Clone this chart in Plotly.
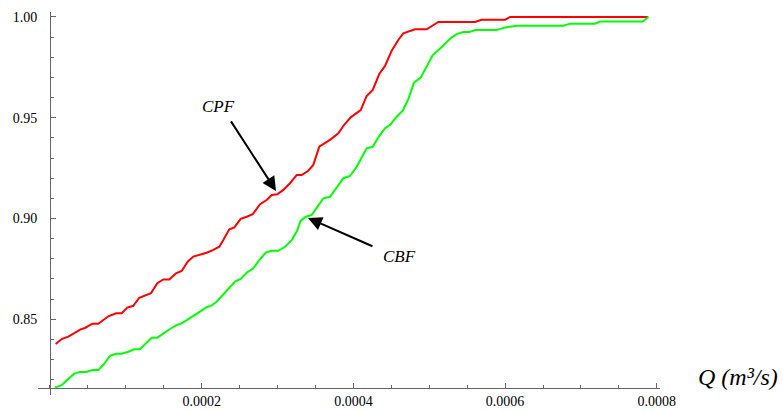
import plotly.graph_objects as go

# flow rate Q (m3/s) and cumulative probability
q_cpf = [7.5e-6, 15.4e-6, 24.1e-6, 33.0e-6, 40.5e-6, 46.1e-6, 55.8e-6, 63.7e-6, 76.9e-6, 87.0e-6,
         94.5e-6, 101.9e-6, 109.8e-6, 117.7e-6, 125.2e-6, 133.2e-6, 141.5e-6, 149.4e-6, 157.3e-6, 166.1e-6,
         173.6e-6, 181.5e-6, 188.9e-6, 197.8e-6, 206.6e-6, 215.3e-6, 223.2e-6, 228.5e-6, 236.4e-6, 243.0e-6,
         251.4e-6, 259.3e-6, 267.2e-6, 276.9e-6, 285.7e-6, 292.3e-6, 299.7e-6, 307.6e-6, 316.4e-6, 325.3e-6,
         331.8e-6, 340.5e-6, 347.1e-6, 355.0e-6, 362.6e-6, 370.1e-6, 380.1e-6, 387.6e-6, 396.4e-6, 409.6e-6,
         417.5e-6, 425.5e-6, 434.1e-6, 441.7e-6, 450.5e-6, 459.2e-6, 465.8e-6, 481.2e-6, 496.6e-6, 511.9e-6,
         560.3e-6, 569.1e-6, 599.9e-6, 606.5e-6, 788.8e-6]
p_cpf = [0.8377, 0.8402, 0.8414, 0.8435, 0.8450, 0.8457, 0.8478, 0.8478, 0.8515, 0.8530,
         0.8530, 0.8558, 0.8567, 0.8607, 0.8617, 0.8630, 0.8679, 0.8698, 0.8698, 0.8728,
         0.8740, 0.8786, 0.8811, 0.8821, 0.8830, 0.8844, 0.8860, 0.8893, 0.8947, 0.8956,
         0.8998, 0.9009, 0.9021, 0.9071, 0.9092, 0.9117, 0.9120, 0.9142, 0.9175, 0.9216,
         0.9216, 0.9237, 0.9266, 0.9356, 0.9373, 0.9393, 0.9423, 0.9464, 0.9502, 0.9538,
         0.9608, 0.9638, 0.9717, 0.9757, 0.9833, 0.9886, 0.9919, 0.9939, 0.9939, 0.9975,
         0.9975, 0.9986, 0.9986, 1.0, 1.0]

q_cbf = [6.6e-6, 15.4e-6, 24.1e-6, 31.6e-6, 39.6e-6, 47.5e-6, 56.3e-6, 63.7e-6, 71.2e-6, 79.1e-6,
         87.0e-6, 94.5e-6, 103.2e-6, 111.1e-6, 118.7e-6, 126.6e-6, 134.1e-6, 141.5e-6, 149.4e-6, 158.2e-6,
         166.1e-6, 173.6e-6, 182.3e-6, 191.2e-6, 197.8e-6, 205.3e-6, 213.2e-6, 219.8e-6, 224.1e-6, 234.6e-6,
         243.9e-6, 251.4e-6, 259.3e-6, 268.0e-6, 275.9e-6, 284.8e-6, 292.3e-6, 301.0e-6, 309.8e-6, 318.7e-6,
         325.3e-6, 330.5e-6, 337.5e-6, 345.0e-6, 352.4e-6, 360.3e-6, 369.2e-6, 378.0e-6, 386.7e-6, 395.5e-6,
         404.4e-6, 409.6e-6, 417.5e-6, 425.5e-6, 432.8e-6, 441.7e-6, 449.2e-6, 457.1e-6, 465.0e-6, 472.4e-6,
         479.9e-6, 488.7e-6, 496.6e-6, 504.6e-6, 513.3e-6, 520.8e-6, 529.6e-6, 537.0e-6, 544.9e-6, 552.8e-6,
         560.3e-6, 588.9e-6, 598.6e-6, 615.3e-6, 676.7e-6, 685.6e-6, 718.5e-6, 725.1e-6, 781.4e-6, 788.8e-6]
p_cbf = [0.8161, 0.8173, 0.8204, 0.8229, 0.8239, 0.8239, 0.8248, 0.8248, 0.8278, 0.8319,
         0.8329, 0.8329, 0.8339, 0.8351, 0.8351, 0.8381, 0.8409, 0.8409, 0.8431, 0.8452,
         0.8470, 0.8480, 0.8501, 0.8521, 0.8538, 0.8558, 0.8569, 0.8587, 0.8604, 0.8645,
         0.8687, 0.8700, 0.8731, 0.8753, 0.8794, 0.8832, 0.8840, 0.8840, 0.8860, 0.8893,
         0.8935, 0.8989, 0.9009, 0.9018, 0.9059, 0.9100, 0.9108, 0.9155, 0.9200, 0.9211,
         0.9257, 0.9294, 0.9348, 0.9356, 0.9403, 0.9448, 0.9468, 0.9505, 0.9535, 0.9592,
         0.9674, 0.9699, 0.9757, 0.9811, 0.9840, 0.9869, 0.9899, 0.9916, 0.9925, 0.9925,
         0.9935, 0.9935, 0.9947, 0.9957, 0.9957, 0.9967, 0.9967, 0.9977, 0.9977, 1.0]

x_ticks = [0.0002, 0.0004, 0.0006, 0.0008]
x_labels = ["0.0002", "0.0004", "0.0006", "0.0008"]
y_ticks = [0.85, 0.90, 0.95, 1.00]
y_labels = ["0.85", "0.90", "0.95", "1.00"]

xr = [-1.58e-5, 8.042e-4]
yr = [0.81244, 1.00247]
x0, y0 = 0.0, 0.816  # where the axes cross

fig = go.Figure()
fig.add_trace(go.Scatter(x=q_cpf, y=p_cpf, mode="lines", line=dict(color="#ff0000", width=2), name="CPF"))
fig.add_trace(go.Scatter(x=q_cbf, y=p_cbf, mode="lines", line=dict(color="#00ff00", width=2), name="CBF"))

axis_col = "#666666"
serif = "Liberation Serif, Times New Roman, serif"
tick_font = dict(family=serif, size=14, color="black")
lbl_font = dict(family=serif, size=17, color="black")

fig.update_layout(
    width=783, height=412,
    margin=dict(l=38, r=123, t=12, b=17),
    plot_bgcolor="white", paper_bgcolor="white",
    font=dict(family=serif, color="black"),
    showlegend=False,
    xaxis=dict(range=xr, showgrid=False, zeroline=False, showline=True, linecolor=axis_col, linewidth=1,
               anchor="free", position=(y0 - yr[0]) / (yr[1] - yr[0]), automargin=False,
               tickmode="array", tickvals=x_ticks, ticktext=x_labels,
               ticks="inside", ticklen=5, tickcolor=axis_col, tickfont=tick_font,
               minor=dict(tickmode="linear", tick0=0, dtick=0.00005, ticks="inside", ticklen=3, tickcolor=axis_col)),
    yaxis=dict(range=yr, showgrid=False, zeroline=False, showline=True, linecolor=axis_col, linewidth=1,
               anchor="free", position=(x0 - xr[0]) / (xr[1] - xr[0]), automargin=False,
               tickmode="array", tickvals=y_ticks, ticktext=y_labels,
               ticks="inside", ticklen=5, tickcolor=axis_col, tickfont=tick_font, ticklabelstandoff=10,
               minor=dict(tickmode="linear", tick0=0, dtick=0.01, ticks="inside", ticklen=3, tickcolor=axis_col)),
)

# labels and arrows
fig.add_annotation(x=2.215e-4, y=0.9558, text="<i>CPF</i>", showarrow=False, font=lbl_font)
fig.add_annotation(x=4.614e-4, y=0.8814, text="<i>CBF</i>", showarrow=False, font=lbl_font)
fig.add_annotation(x=2.98e-4, y=0.9137, ax=-46, ay=-71, text="", showarrow=True,
                   arrowhead=2, arrowsize=1.4, arrowwidth=2, arrowcolor="black")
fig.add_annotation(x=3.401e-4, y=0.9003, ax=66, ay=29, text="", showarrow=True,
                   arrowhead=2, arrowsize=1.4, arrowwidth=2, arrowcolor="black")
# axis title sits right of the plot area
fig.add_annotation(xref="paper", yref="paper", x=1.193, y=0.047, xanchor="right", yanchor="middle",
                   text="<i>Q (m³/s)</i>", showarrow=False,
                   font=dict(family=serif, size=24, color="black"))

fig.write_html("out.html", config={"displayModeBar": False},
               post_script="document.body.style.margin='0';")
